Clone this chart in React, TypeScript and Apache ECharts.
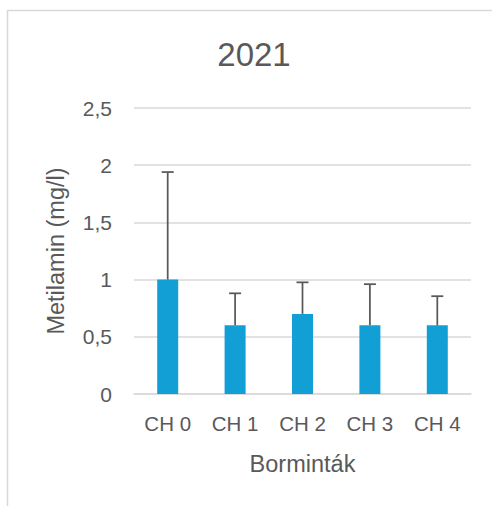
import React, { useEffect, useRef } from "react";
import * as echarts from "echarts";

const categories = ["CH 0", "CH 1", "CH 2", "CH 3", "CH 4"];
const means = [1.0, 0.6, 0.7, 0.6, 0.6];
const upperBounds = [1.94, 0.88, 0.976, 0.96, 0.855];
const yTicks = [0, 0.5, 1, 1.5, 2, 2.5];

const FONT = "Liberation Sans";
const TEXT = "#595959";

export default function App() {
  const ref = useRef<HTMLDivElement>(null);
  useEffect(() => {
    if (!ref.current) return;
    const chart = echarts.init(ref.current, null, { renderer: "svg" });
    chart.setOption({
      animation: false,
      backgroundColor: "#ffffff",
      graphic: [
        {
          type: "rect",
          shape: { x: 7.5, y: 10.5, width: 600, height: 600 },
          style: { fill: "none", stroke: "#d9d9d9", lineWidth: 1.5 },
          silent: true,
          z: -1,
        },
        {
          type: "text",
          x: 254,
          y: 54,
          style: {
            text: "2021",
            fill: TEXT,
            font: `33px "${FONT}"`,
            textAlign: "center",
            textVerticalAlign: "middle",
          },
        },
      ],
      grid: { left: 134, right: 21, top: 108, bottom: 112, containLabel: false },
      xAxis: {
        type: "category",
        data: categories,
        name: "Borminták",
        nameLocation: "middle",
        nameGap: 58,
        nameTextStyle: { fontFamily: FONT, fontSize: 23.5, color: TEXT },
        axisLine: { show: true, lineStyle: { color: "#d9d9d9", width: 1.5 } },
        axisTick: { show: false },
        axisLabel: { fontFamily: FONT, fontSize: 20.5, color: TEXT, margin: 19 },
      },
      yAxis: {
        type: "value",
        min: 0,
        max: 2.5,
        interval: 0.5,
        name: "Metilamin (mg/l)",
        nameLocation: "middle",
        nameGap: 66,
        nameTextStyle: { fontFamily: FONT, fontSize: 23.5, color: TEXT },
        axisLine: { show: false },
        axisTick: { show: false },
        splitLine: { lineStyle: { color: "#d9d9d9", width: 1.5 } },
        axisLabel: {
          fontFamily: FONT,
          fontSize: 21,
          color: TEXT,
          margin: 22,
          formatter: (v: number) =>
            yTicks.includes(v) ? String(v).replace(".", ",") : "",
        },
      },
      series: [
        {
          type: "bar",
          data: means,
          barWidth: 21,
          itemStyle: { color: "#129fd6" },
          z: 2,
        },
        {
          type: "custom",
          z: 3,
          data: categories.map((_, i) => [i, means[i], upperBounds[i]]),
          renderItem: (params: any, api: any) => {
            const i = api.value(0);
            const p0 = api.coord([i, api.value(1)]);
            const p1 = api.coord([i, api.value(2)]);
            const half = 6;
            const style = { stroke: "#595959", lineWidth: 1.75 };
            return {
              type: "group",
              children: [
                {
                  type: "line",
                  shape: { x1: p0[0], y1: p0[1], x2: p1[0], y2: p1[1] },
                  style,
                },
                {
                  type: "line",
                  shape: { x1: p1[0] - half, y1: p1[1], x2: p1[0] + half, y2: p1[1] },
                  style,
                },
              ],
            };
          },
        },
      ],
    });
    return () => chart.dispose();
  }, []);
  return (
    <div
      ref={ref}
      style={{ position: "fixed", left: 0, top: 0, width: 492, height: 506 }}
    />
  );
}
